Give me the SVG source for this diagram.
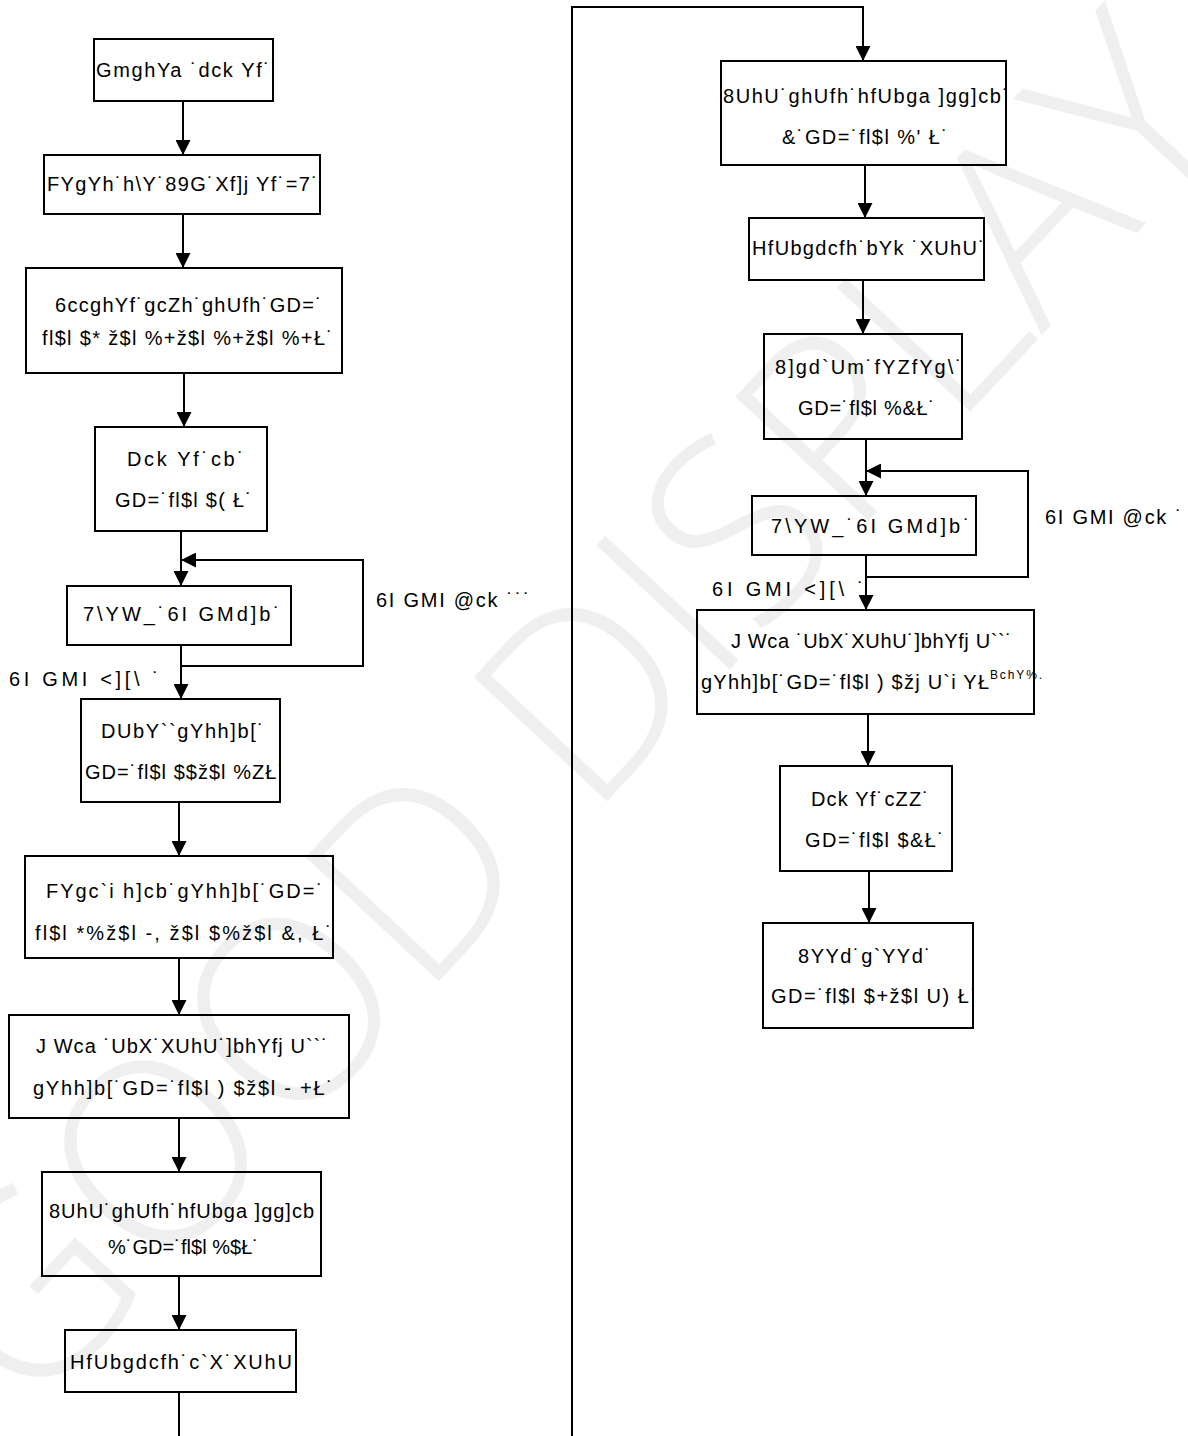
<svg xmlns="http://www.w3.org/2000/svg" width="1188" height="1436" viewBox="0 0 1188 1436">
<style>
.bx{fill:none;stroke:#000;stroke-width:2}
.t{font-family:"Liberation Sans",Arial,sans-serif;font-size:20px;fill:#000}
.s{font-family:"Liberation Sans",Arial,sans-serif;font-size:12px;fill:#000}
.c{fill:none;stroke:#000;stroke-width:2}
.wm{font-family:"Open Sans","Liberation Sans",sans-serif;font-weight:300;font-size:255px;fill:#efefef}
</style>
<defs>
<marker id="ah" viewBox="0 0 10 10" refX="10" refY="5" markerWidth="15" markerHeight="15" markerUnits="userSpaceOnUse" orient="auto">
<path d="M0,0 L10,5 L0,10 z" fill="#000"/>
</marker>
</defs>
<rect width="1188" height="1436" fill="#fff"/>
<text class="wm" transform="translate(30,1420) rotate(-47)">GOOD DISPLAY</text>

<g id="connectors">
<path class="c" d="M183,101 V155" marker-end="url(#ah)"/>
<path class="c" d="M183,214 V268" marker-end="url(#ah)"/>
<path class="c" d="M184,373 V427" marker-end="url(#ah)"/>
<path class="c" d="M181,531 V586" marker-end="url(#ah)"/>
<path class="c" d="M181,666 H363 V560 H181" marker-end="url(#ah)"/>
<path class="c" d="M181,645 V699" marker-end="url(#ah)"/>
<path class="c" d="M179,802 V856" marker-end="url(#ah)"/>
<path class="c" d="M179,958 V1015" marker-end="url(#ah)"/>
<path class="c" d="M179,1118 V1172" marker-end="url(#ah)"/>
<path class="c" d="M179,1276 V1330" marker-end="url(#ah)"/>
<path class="c" d="M179,1392 V1436"/>
<path class="c" d="M572,1436 V7 H863 V61" marker-end="url(#ah)"/>
<path class="c" d="M865,165 V218" marker-end="url(#ah)"/>
<path class="c" d="M863,280 V334" marker-end="url(#ah)"/>
<path class="c" d="M866,439 V496" marker-end="url(#ah)"/>
<path class="c" d="M866,577 H1028 V471 H866" marker-end="url(#ah)"/>
<path class="c" d="M866,555 V610" marker-end="url(#ah)"/>
<path class="c" d="M868,714 V766" marker-end="url(#ah)"/>
<path class="c" d="M869,871 V923" marker-end="url(#ah)"/>
<text class="t" x="376" y="607" textLength="154" lengthAdjust="spacing">6I GMI @ck ˙˙˙</text>
<text class="t" x="9" y="686" textLength="150" lengthAdjust="spacing">6I GMI &lt;][\ ˙</text>
<text class="t" x="1045" y="524" textLength="137" lengthAdjust="spacing">6I GMI @ck ˙</text>
<text class="t" x="712" y="596" textLength="152" lengthAdjust="spacing">6I GMI &lt;][\ ˙</text>
</g>

<g id="n1"><rect class="bx" x="94" y="39" width="179" height="62"/>
<text class="t" x="96" y="77" textLength="174" lengthAdjust="spacing">GmghYa ˙dck Yf˙</text></g>
<g id="n2"><rect class="bx" x="44" y="155" width="276" height="59"/>
<text class="t" x="47" y="191" textLength="271" lengthAdjust="spacing">FYgYh˙h\Y˙89G˙Xf]j Yf˙=7˙</text></g>
<g id="n3"><rect class="bx" x="26" y="268" width="316" height="105"/>
<text class="t" x="55" y="312" textLength="267" lengthAdjust="spacing">6ccghYf˙gcZh˙ghUfh˙GD=˙</text>
<text class="t" x="42" y="345" textLength="291" lengthAdjust="spacing">fl$l $* ž$l %+ž$l %+ž$l %+Ł˙</text></g>
<g id="n4"><rect class="bx" x="95" y="427" width="172" height="104"/>
<text class="t" x="127" y="466" textLength="117" lengthAdjust="spacing">Dck Yf˙cb˙</text>
<text class="t" x="115" y="507" textLength="137" lengthAdjust="spacing">GD=˙fl$l $( Ł˙</text></g>
<g id="n5"><rect class="bx" x="67" y="586" width="224" height="59"/>
<text class="t" x="83" y="621" textLength="197" lengthAdjust="spacing">7\YW_˙6I GMd]b˙</text></g>
<g id="n6"><rect class="bx" x="81" y="699" width="199" height="103"/>
<text class="t" x="101" y="738" textLength="163" lengthAdjust="spacing">DUbY``gYhh]b[˙</text>
<text class="t" x="85" y="779" textLength="199" lengthAdjust="spacing">GD=˙fl$l $$ž$l %ZŁ˙</text></g>
<g id="n7"><rect class="bx" x="25" y="856" width="308" height="102"/>
<text class="t" x="46" y="898" textLength="277" lengthAdjust="spacing">FYgc`i h]cb˙gYhh]b[˙GD=˙</text>
<text class="t" x="35" y="940" textLength="297" lengthAdjust="spacing">fl$l *%ž$l -, ž$l $%ž$l &amp;, Ł˙</text></g>
<g id="n8"><rect class="bx" x="9" y="1015" width="340" height="103"/>
<text class="t" x="36" y="1053" textLength="292" lengthAdjust="spacing">J Wca ˙UbX˙XUhU˙]bhYfj U``˙</text>
<text class="t" x="33" y="1095" textLength="300" lengthAdjust="spacing">gYhh]b[˙GD=˙fl$l ) $ž$l - +Ł˙</text></g>
<g id="n9"><rect class="bx" x="42" y="1172" width="279" height="104"/>
<text class="t" x="49" y="1218" textLength="265" lengthAdjust="spacing">8UhU˙ghUfh˙hfUbga ]gg]cb</text>
<text class="t" x="108" y="1254" textLength="151" lengthAdjust="spacing">%˙GD=˙fl$l %$Ł˙</text></g>
<g id="n10"><rect class="bx" x="65" y="1330" width="231" height="62"/>
<text class="t" x="70" y="1369" textLength="222" lengthAdjust="spacing">HfUbgdcfh˙c`X˙XUhU</text></g>

<g id="n11"><rect class="bx" x="721" y="61" width="285" height="104"/>
<text class="t" x="723" y="103" textLength="286" lengthAdjust="spacing">8UhU˙ghUfh˙hfUbga ]gg]cb˙</text>
<text class="t" x="782" y="144" textLength="166" lengthAdjust="spacing">&amp;˙GD=˙fl$l %' Ł˙</text></g>
<g id="n12"><rect class="bx" x="749" y="218" width="235" height="62"/>
<text class="t" x="752" y="255" textLength="233" lengthAdjust="spacing">HfUbgdcfh˙bYk ˙XUhU˙</text></g>
<g id="n13"><rect class="bx" x="764" y="334" width="198" height="105"/>
<text class="t" x="775" y="374" textLength="187" lengthAdjust="spacing">8]gd`Um˙fYZfYg\˙</text>
<text class="t" x="798" y="415" textLength="137" lengthAdjust="spacing">GD=˙fl$l %&amp;Ł˙</text></g>
<g id="n14"><rect class="bx" x="752" y="496" width="224" height="59"/>
<text class="t" x="771" y="533" textLength="199" lengthAdjust="spacing">7\YW_˙6I GMd]b˙</text></g>
<g id="n15"><rect class="bx" x="697" y="610" width="337" height="104"/>
<text class="t" x="731" y="648" textLength="281" lengthAdjust="spacing">J Wca ˙UbX˙XUhU˙]bhYfj U``˙</text>
<text class="t" x="701" y="689" textLength="288" lengthAdjust="spacing">gYhh]b[˙GD=˙fl$l ) $žj U`i YŁ</text>
<text class="s" x="990" y="679" textLength="52" lengthAdjust="spacing">BchY%.</text></g>
<g id="n16"><rect class="bx" x="780" y="766" width="172" height="105"/>
<text class="t" x="811" y="806" textLength="118" lengthAdjust="spacing">Dck Yf˙cZZ˙</text>
<text class="t" x="805" y="847" textLength="139" lengthAdjust="spacing">GD=˙fl$l $&amp;Ł˙</text></g>
<g id="n17"><rect class="bx" x="763" y="923" width="210" height="105"/>
<text class="t" x="798" y="963" textLength="133" lengthAdjust="spacing">8YYd˙g`YYd˙</text>
<text class="t" x="771" y="1003" textLength="206" lengthAdjust="spacing">GD=˙fl$l $+ž$l U) Ł˙</text></g>
</svg>
